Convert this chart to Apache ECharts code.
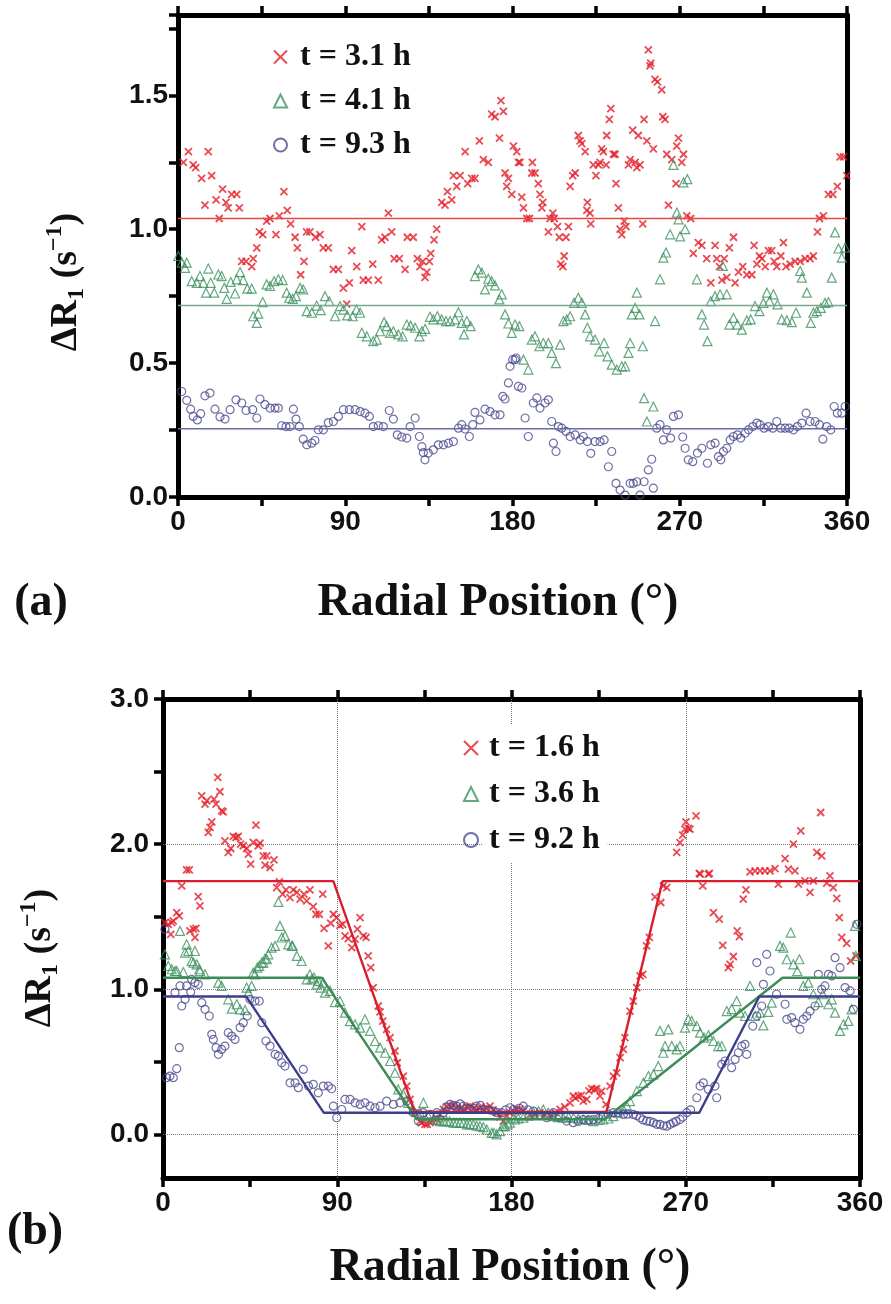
<!DOCTYPE html>
<html>
<head>
<meta charset="utf-8">
<script src="https://cdn.jsdelivr.net/npm/echarts@6/dist/echarts.min.js"></script>
<style>
  html, body { margin: 0; padding: 0; background: #fff; }
  #main { width: 891px; height: 1304px; }
</style>
</head>
<body>
<div id="main"></div>
<script>
// ---- panel (a): dR1 vs radial position, t = 3.1 / 4.1 / 9.3 h ----
var namesA = ['t = 3.1 h', 't = 4.1 h', 't = 9.3 h'];
var red31 = [[2.9,1.25],[5.6,1.29],[8.2,1.24],[9.5,1.23],[12.7,1.19],[14.5,1.09],[16.3,1.29],[18.1,1.20],[20.5,1.11],[22.2,1.04],[24,1.15],[25.8,1.10],[27,1.08],[28.9,1.13],[31.6,1.13],[33,1.08],[34.3,0.88],[36.6,0.88],[39.7,0.86],[40.5,0.89],[42.4,0.93],[43.8,0.99],[45.6,0.98],[47.7,1.03],[49.5,1.04],[52.7,0.98],[54.5,1.05],[57,1.14],[58.8,1.07],[60.6,1.02],[63,0.97],[64.2,0.93],[66,0.83],[67.8,0.88],[69.2,0.99],[71,0.99],[74,0.97],[76.4,0.98],[78.2,0.93],[80.9,0.93],[83.6,0.85],[86.3,0.85],[89,0.78],[90.8,0.72],[92.2,0.80],[93.5,0.92],[96.2,0.86],[98.9,1.01],[99.7,0.81],[102.4,0.81],[104.8,0.87],[107.8,0.81],[109.6,0.96],[111.4,0.97],[113.2,1.06],[115,0.99],[116.3,0.89],[119.1,0.89],[122.2,0.85],[123.4,0.97],[126.6,0.97],[128.8,0.89],[130.2,0.86],[131.7,0.88],[132.9,0.82],[133.9,0.84],[135.3,0.88],[136,0.91],[137.8,0.96],[139.2,1.0],[141.9,1.10],[143.7,1.09],[145,1.14],[147.3,1.11],[148.2,1.20],[150,1.16],[151.8,1.20],[154.5,1.29],[155.9,1.17],[158.1,1.19],[159.8,1.19],[162.2,1.33],[164.3,1.26],[167,1.25],[168.8,1.43],[170.6,1.42],[173,1.34],[173.8,1.48],[175.1,1.44],[176,1.21],[176.9,1.16],[177.8,1.19],[179.6,1.13],[180.5,1.31],[182.3,1.29],[183.2,1.25],[184,1.25],[185,1.12],[185.9,1.08],[187.7,1.04],[189.1,1.04],[190.4,1.21],[190.7,1.25],[192.1,1.21],[193.9,1.17],[194.8,1.13],[195.8,1.08],[196.3,1.10],[199.3,0.99],[200.2,1.04],[201.7,1.06],[202.4,1.04],[204.2,1.01],[205.2,0.97],[206,0.87],[207.1,0.86],[207.8,0.90],[208.8,0.97],[210.1,1.01],[211,1.16],[212.4,1.20],[213.7,1.21],[215.4,1.35],[216.4,1.33],[217.3,1.32],[219.1,1.29],[220,1.07],[220.3,1.10],[221.7,1.06],[222.1,1.02],[223.5,1.24],[224.9,1.20],[226.2,1.24],[227.1,1.25],[228,1.30],[228.9,1.29],[230.4,1.24],[230.7,1.35],[232.1,1.41],[232.9,1.45],[234.3,1.28],[235.2,1.28],[235.7,1.17],[237,1.08],[237.9,1.0],[238.8,0.98],[240.1,1.03],[241.1,1.01],[242.4,1.24],[243.3,1.26],[244.7,1.37],[246,1.25],[246.9,1.23],[247.7,1.35],[248.6,1.24],[250.1,1.02],[250.8,1.41],[252.3,1.33],[253.1,1.67],[254,1.61],[254.4,1.62],[255.8,1.30],[256.7,1.56],[258,1.55],[260.3,1.52],[260.9,1.42],[262.1,1.41],[263,1.28],[263.9,1.09],[265.7,1.26],[268,1.17],[268.4,1.31],[269.3,1.34],[271.1,1.25],[272,1.28],[273.8,1.05],[275.9,1.04],[277.3,0.91],[280,0.95],[281.9,0.94],[284.5,0.89],[286.7,0.80],[289,0.94],[289.9,0.89],[291.4,0.86],[292.7,0.81],[293.9,0.89],[295.3,0.82],[296.7,0.93],[298.9,0.97],[299.8,0.80],[301.6,0.84],[303.9,0.86],[306.1,0.83],[308.8,0.83],[310,0.94],[311.5,0.87],[312.9,0.90],[314.2,0.89],[316,0.86],[317.7,0.92],[319.5,0.92],[320.8,0.88],[322.2,0.86],[324.4,0.90],[325.8,0.95],[327.2,0.86],[329.4,0.87],[332.1,0.88],[334.8,0.88],[337.5,0.89],[340.1,0.89],[341.9,0.90],[344.1,0.99],[345.2,1.04],[347.3,1.05],[350,1.13],[352.4,1.13],[354.8,1.16],[356.3,1.27],[358.1,1.27],[359.9,1.20]];
var green41 = [[0.2,0.90],[2,0.875],[3.8,0.856],[4.7,0.875],[7.4,0.806],[10.1,0.80],[11.8,0.825],[13.6,0.80],[15.1,0.763],[16.3,0.853],[17.6,0.80],[19.5,0.763],[21.7,0.831],[23.5,0.825],[24.9,0.781],[26.2,0.74],[28.4,0.803],[30.7,0.76],[31.6,0.813],[33.4,0.84],[35.1,0.81],[37.3,0.778],[39.7,0.778],[40.5,0.675],[42.4,0.65],[43.2,0.685],[45.6,0.728],[47.7,0.794],[49.5,0.788],[51.7,0.806],[54,0.813],[56.3,0.81],[58.5,0.763],[59.9,0.744],[61.7,0.74],[63.5,0.75],[65.7,0.781],[67.4,0.775],[69.3,0.694],[72,0.688],[74.6,0.715],[76.8,0.698],[79.1,0.75],[81.4,0.731],[84.5,0.675],[87.2,0.713],[89,0.70],[91.1,0.678],[94,0.675],[96,0.70],[98,0.688],[98.9,0.613],[101.6,0.60],[105.1,0.582],[106.9,0.588],[108.7,0.619],[110.9,0.653],[112.3,0.638],[114.1,0.613],[115.9,0.619],[118.6,0.607],[120.9,0.60],[123.1,0.644],[125.2,0.64],[127.6,0.632],[129.9,0.60],[131.2,0.619],[133,0.628],[135.6,0.673],[137.4,0.663],[139.6,0.675],[141.9,0.663],[144.2,0.657],[146.4,0.657],[149.1,0.663],[150.9,0.69],[152.7,0.65],[153.9,0.607],[155.4,0.657],[157.5,0.638],[159.8,0.825],[161.6,0.85],[163.5,0.838],[165.2,0.775],[167,0.815],[168.8,0.806],[170.6,0.79],[172.9,0.738],[174.2,0.757],[176,0.682],[177.8,0.648],[179.6,0.613],[181.4,0.644],[183.7,0.638],[185.9,0.513],[188.5,0.476],[190.4,0.588],[192.1,0.60],[194.5,0.563],[196.6,0.575],[199.3,0.575],[201.1,0.538],[203.4,0.50],[205.6,0.569],[207.4,0.657],[209.2,0.663],[211,0.675],[213.1,0.725],[215.4,0.744],[217.3,0.725],[219.1,0.682],[220.3,0.632],[221.7,0.60],[224.4,0.588],[226.7,0.544],[229.3,0.575],[231.1,0.525],[233.4,0.494],[236.1,0.476],[238.8,0.488],[240.6,0.488],[242.4,0.538],[243.3,0.575],[244.2,0.682],[246,0.706],[246.9,0.763],[248.3,0.682],[250.1,0.563],[250.8,0.369],[252.3,0.282],[255.8,0.338],[256.7,0.657],[259.4,0.813],[261.2,0.894],[262.6,0.913],[264.8,0.981],[266.6,1.24],[268.4,1.062],[269.3,1.037],[270.2,0.973],[272,1.175],[272.9,1.0],[274.1,1.187],[279.2,0.813],[281.9,0.682],[283.1,0.644],[284.9,0.582],[286.7,0.731],[289,0.75],[291.7,0.757],[293.2,0.863],[295.3,0.757],[296.7,0.644],[298.9,0.669],[301,0.644],[303.4,0.625],[306.1,0.66],[308.2,0.663],[310.5,0.713],[312.9,0.694],[315,0.725],[316.9,0.763],[318.3,0.731],[320.4,0.757],[322.6,0.719],[324.9,0.663],[327.6,0.66],[330.3,0.653],[332.6,0.688],[334.8,0.844],[335.7,0.819],[338.4,0.763],[340.5,0.65],[341.9,0.688],[343.8,0.694],[345.9,0.706],[348.2,0.725],[350,0.728],[351.8,0.819],[353.6,0.988],[355.4,0.928],[357.2,0.894],[359,0.931]];
var blue93 = [[2,0.394],[4.7,0.361],[6.8,0.328],[8.2,0.301],[10.4,0.288],[12.2,0.311],[14.5,0.378],[17.2,0.388],[19.9,0.328],[22.6,0.299],[25.3,0.291],[28,0.326],[31.2,0.363],[34.3,0.351],[36.6,0.323],[40.2,0.326],[42.4,0.295],[44.1,0.366],[46.8,0.345],[49.5,0.332],[52.2,0.332],[54,0.332],[55.8,0.266],[58.1,0.263],[60.3,0.263],[62.1,0.328],[63.5,0.291],[65.3,0.263],[67.4,0.216],[69.3,0.195],[72,0.201],[73.7,0.211],[75.5,0.251],[78.2,0.251],[80.9,0.278],[83.6,0.282],[86.3,0.301],[89,0.326],[92.2,0.326],[95.3,0.326],[98,0.319],[100.6,0.313],[103,0.301],[105.1,0.263],[107.8,0.266],[110.5,0.263],[113.7,0.323],[115.9,0.291],[118,0.232],[120.4,0.224],[123.1,0.22],[124.9,0.263],[127.6,0.295],[129.9,0.226],[131.2,0.188],[132,0.166],[132.9,0.139],[134.7,0.164],[137.4,0.176],[140.1,0.195],[142.8,0.195],[145.5,0.201],[148.2,0.207],[150.9,0.257],[152.7,0.27],[154.5,0.254],[156.8,0.226],[158.6,0.27],[159.8,0.316],[162.5,0.288],[165.2,0.328],[167.9,0.319],[170.6,0.307],[173.3,0.307],[174.8,0.376],[176,0.366],[177.8,0.426],[178.7,0.488],[180.1,0.513],[181.4,0.513],[181.9,0.519],[183.2,0.413],[185,0.407],[186.8,0.295],[188.5,0.226],[191.2,0.351],[193.1,0.37],[194.8,0.332],[197.5,0.351],[199.3,0.363],[201.1,0.282],[202,0.201],[203.4,0.17],[204.7,0.263],[206.5,0.257],[208.8,0.245],[211,0.226],[213.7,0.232],[216.4,0.213],[218.1,0.226],[220.3,0.207],[222.1,0.163],[224.4,0.207],[227.1,0.207],[229.3,0.213],[231.6,0.113],[233.4,0.17],[235.7,0.051],[237.9,0.026],[240.6,0.007],[243.3,0.051],[245,0.051],[246.9,0.057],[248.6,0.007],[250.8,0.057],[253.1,0.101],[254.9,0.141],[255.8,0.033],[257.6,0.257],[259.4,0.27],[261.2,0.213],[263,0.251],[265.1,0.22],[266.6,0.301],[269.3,0.307],[271.6,0.224],[272.9,0.182],[274.6,0.139],[277,0.132],[279.5,0.164],[281.9,0.182],[284.9,0.126],[286.7,0.195],[289,0.201],[290.8,0.151],[292.1,0.139],[293.5,0.17],[295.3,0.182],[297.1,0.213],[298.9,0.226],[301,0.232],[302.8,0.22],[305.2,0.238],[307,0.251],[309.3,0.263],[311.5,0.276],[313.2,0.27],[315.4,0.257],[317.7,0.263],[320.1,0.257],[322.2,0.282],[324.4,0.257],[326.7,0.257],[329,0.257],[331.2,0.251],[333.3,0.263],[335.7,0.276],[338,0.313],[340.1,0.282],[342.8,0.282],[345.2,0.27],[347,0.216],[349.1,0.263],[351.3,0.251],[353.1,0.338],[354.8,0.313],[357.2,0.313],[359,0.338]];
// mean levels drawn as horizontal lines in (a)
var meanA = [1.04, 0.715, 0.255];

// ---- panel (b): t = 1.6 / 3.6 / 9.2 h with trapezoid fits ----
var namesB = ['t = 1.6 h', 't = 3.6 h', 't = 9.2 h'];
var red16 = [[1,1.46],[2.7,1.448],[4,1.379],[4.5,1.46],[5.3,1.471],[7.1,1.529],[8.4,1.506],[9.7,1.712],[12.2,1.823],[13.6,1.823],[13.9,1.402],[15.7,1.414],[16.5,1.357],[17,1.419],[18.2,1.639],[19.1,1.575],[20,2.333],[21.7,2.276],[22.6,2.299],[23.4,2.081],[24.3,2.115],[25.2,2.154],[26.3,2.31],[27.4,2.276],[28.3,2.46],[29.4,2.361],[30.3,2.23],[31.1,2.223],[32,2.023],[33.7,1.943],[35,1.97],[36.3,2.053],[37.7,2.046],[38.9,2.053],[40.1,2.0],[41.5,1.989],[43.2,1.97],[44.1,1.931],[45.3,1.862],[46.6,2.012],[48,2.131],[49.2,1.989],[50.1,2.007],[51.8,1.919],[52.7,1.855],[53.6,1.919],[55.3,1.839],[57.3,1.892],[58.7,1.701],[60.1,1.74],[61.8,1.655],[63.5,1.685],[65.6,1.632],[67.3,1.685],[69.1,1.667],[70.8,1.621],[72.8,1.655],[74.2,1.609],[75.9,1.685],[77.6,1.57],[79,1.517],[80.7,1.517],[82.5,1.655],[83.2,1.419],[85.4,1.299],[86.6,1.455],[88,1.517],[89.7,1.494],[91.4,1.441],[92.8,1.448],[94,1.368],[95.7,1.349],[97.5,1.287],[99.2,1.345],[100.4,1.414],[101.8,1.494],[103.5,1.368],[104.9,1.357],[106,1.23],[107.3,1.149],[108.6,1.012],[111.2,0.885],[112.1,0.844],[113.5,0.781],[115.5,0.724],[117.3,0.667],[119.8,0.575],[121,0.494],[124.1,0.402],[125.9,0.333],[127.6,0.241],[130.2,0.15],[132.7,0.092],[133.5,0.08],[135.3,0.069],[136.5,0.07],[137.9,0.081],[139,0.09],[141.4,0.103],[143,0.14],[144.8,0.172],[146.5,0.19],[148.2,0.195],[150,0.2],[151.7,0.184],[153.5,0.18],[155.1,0.172],[157,0.19],[158.6,0.195],[160.5,0.18],[162,0.172],[164,0.19],[165.4,0.172],[167,0.18],[168.9,0.195],[170.5,0.17],[172.4,0.15],[174,0.12],[175.8,0.092],[177.5,0.13],[179.2,0.15],[181,0.16],[182.7,0.172],[184.4,0.172],[186,0.16],[189.6,0.138],[192,0.14],[194.7,0.15],[197,0.14],[199.9,0.126],[202.5,0.15],[205.1,0.172],[207.5,0.19],[210.2,0.218],[211.9,0.264],[213,0.25],[214.5,0.264],[216,0.27],[217.1,0.23],[218.9,0.241],[220,0.3],[221.4,0.315],[223,0.31],[224,0.315],[225.7,0.264],[226.6,0.299],[228.8,0.207],[230.9,0.333],[232.6,0.402],[234.3,0.425],[236.1,0.529],[237.8,0.586],[238.6,0.667],[241.2,0.85],[242.9,0.919],[244.7,1.012],[246.4,1.092],[247.8,1.103],[249.8,1.299],[251.2,1.357],[254.1,1.637],[257.1,1.598],[258.4,1.712],[260.2,1.701],[265.3,1.943],[267,2.01],[268.4,2.062],[269.6,2.103],[270.1,2.154],[271.3,2.108],[272.2,2.103],[275.3,2.195],[277,1.798],[277.5,1.793],[278.8,1.712],[281.7,1.793],[282.2,1.798],[284.3,1.529],[287.3,1.483],[289.1,1.303],[292,1.149],[292.9,1.172],[294.6,1.226],[296.6,1.402],[297.7,1.363],[299.7,1.621],[301.1,1.685],[303.2,1.809],[305.8,1.816],[308.4,1.816],[310.9,1.816],[313.5,1.816],[316.1,1.832],[317.8,1.724],[321.3,1.901],[323,1.828],[325.6,2.0],[326.4,1.816],[328.2,1.724],[329.4,2.092],[331.6,1.747],[334.2,1.667],[335.9,1.747],[337.7,1.943],[339.7,2.218],[340.2,1.92],[342.8,1.731],[344.5,1.782],[346.2,1.701],[348,1.626],[349.3,1.494],[350.6,1.357],[353.1,1.317],[355.2,1.195],[357.9,1.23]];
var green36 = [[1,1.241],[2.7,1.161],[4.5,1.138],[6.2,1.126],[7.1,1.126],[8.8,1.402],[10.5,1.119],[11.4,1.253],[12.2,1.31],[13.1,1.264],[14.8,1.195],[15.7,1.184],[16.5,1.264],[17.4,1.172],[18.8,1.138],[19.1,1.126],[21.7,1.103],[28.6,1.046],[30.3,1.023],[33.7,0.931],[35.5,0.867],[38.1,0.897],[39.8,0.862],[42.4,0.857],[43.2,1.012],[44.1,0.977],[45.8,1.023],[46.6,1.115],[47.5,1.103],[48.7,1.149],[49.7,1.161],[51,1.184],[51.8,1.184],[52.7,1.212],[53.6,1.207],[54.4,1.241],[56.1,1.287],[57.9,1.299],[59.6,1.602],[60.4,1.437],[61.3,1.357],[63,1.368],[64.7,1.31],[66.5,1.299],[67,1.299],[69.1,1.23],[71.6,1.195],[74.2,1.069],[75.9,1.103],[76.8,1.069],[78,1.081],[79.4,1.034],[80.2,1.057],[81.4,1.012],[82.8,1.046],[83.7,0.977],[86.3,0.989],[88.8,0.912],[91.4,0.919],[94,0.839],[96.6,0.781],[99.2,0.759],[101.8,0.736],[104.3,0.793],[106.9,0.713],[109.5,0.644],[112.1,0.598],[114.7,0.563],[117.3,0.506],[119.8,0.425],[121.5,0.31],[124.1,0.276],[126.7,0.218],[129.3,0.172],[132.7,0.15],[134.5,0.218],[137,0.126],[139.6,0.103],[141.5,0.1],[143.1,0.092],[145,0.09],[146.5,0.092],[148,0.09],[150,0.081],[151.5,0.08],[153.4,0.081],[155,0.08],[156.9,0.069],[158.5,0.07],[160.3,0.069],[162,0.06],[163.7,0.057],[165.5,0.05],[167.2,0.034],[169.8,0.011],[171,0.01],[172.4,0.0],[174.1,0.023],[175.8,0.057],[176.7,0.057],[178,0.07],[179.2,0.081],[181,0.115],[181.8,0.103],[183.5,0.11],[186.1,0.115],[188.5,0.13],[191.3,0.15],[194,0.16],[196.4,0.172],[199,0.15],[201.6,0.126],[204,0.12],[206.8,0.115],[209.5,0.12],[212,0.115],[214.5,0.11],[217.1,0.103],[219.5,0.1],[222.3,0.092],[225,0.1],[227.4,0.103],[230,0.11],[232.6,0.126],[235,0.15],[237.8,0.172],[239.5,0.2],[241.2,0.23],[244.7,0.299],[248.1,0.356],[250.7,0.402],[253.3,0.414],[255.8,0.471],[256.7,0.713],[258.4,0.563],[259.3,0.609],[261,0.724],[262.8,0.609],[265.3,0.586],[267,0.609],[269.6,0.736],[271.3,0.793],[273.1,0.782],[275.7,0.747],[277.4,0.701],[279.4,0.667],[281.7,0.683],[284.3,0.644],[286.8,0.609],[288.6,0.609],[291.2,0.85],[293.7,0.864],[296.3,0.919],[298,0.839],[300.6,0.816],[303.2,1.023],[305.8,0.816],[308.4,0.839],[310.1,0.751],[312.7,0.844],[314.4,0.908],[318.7,1.299],[320.4,1.287],[322.2,1.207],[324.2,1.391],[325.6,1.172],[327.6,1.126],[328.7,1.207],[330.7,1.023],[333.3,1.046],[335.9,0.966],[338.5,0.912],[340.8,0.966],[343.7,0.897],[345.4,0.931],[347.1,0.839],[349.7,0.713],[351.4,0.759],[354,0.782],[355.7,0.862],[357.4,1.437],[357.9,1.23]];
var blue92 = [[1,1.414],[1.9,0.391],[3.6,0.402],[5.3,0.391],[6.2,0.977],[7.1,0.453],[8.4,0.598],[8.8,1.023],[9.7,0.885],[11.4,0.931],[12.2,1.023],[14.3,0.982],[14.8,1.069],[16.5,1.046],[18.2,1.034],[20,0.908],[21.7,0.862],[23.9,0.816],[25.2,0.69],[26,0.655],[27.4,0.598],[28.6,0.552],[30.3,0.586],[32,0.609],[33.7,0.701],[35.5,0.678],[37.2,0.655],[39.8,0.736],[41.5,0.77],[43.5,0.816],[44.9,0.931],[47.5,0.919],[49.7,0.919],[51,0.77],[53.2,0.644],[55.3,0.609],[57.9,0.552],[59.6,0.54],[61.3,0.494],[63,0.471],[65.6,0.356],[68.2,0.356],[69.9,0.322],[72.5,0.448],[75.1,0.333],[77.6,0.345],[80.2,0.287],[82.8,0.333],[85.4,0.333],[87.1,0.315],[88,0.195],[89.7,0.115],[92.3,0.172],[94,0.241],[96.6,0.241],[99.2,0.218],[101.8,0.207],[104.3,0.218],[106.9,0.195],[109.5,0.184],[112.1,0.195],[115.5,0.23],[119,0.207],[122.4,0.218],[125.9,0.23],[129.3,0.15],[131.9,0.092],[134.5,0.15],[137.9,0.138],[141.4,0.15],[144.8,0.15],[146.5,0.19],[148.2,0.207],[150,0.2],[151.7,0.195],[153.5,0.21],[155.1,0.195],[157,0.18],[158.6,0.172],[160.5,0.18],[162,0.195],[164,0.2],[166.3,0.172],[168.5,0.17],[170.6,0.161],[172.5,0.15],[174.9,0.15],[177,0.17],[179.2,0.184],[181,0.172],[184,0.18],[186.1,0.195],[188.5,0.17],[191.3,0.161],[195,0.13],[198.2,0.115],[201.6,0.15],[204.5,0.12],[208.5,0.092],[211.9,0.081],[214.5,0.09],[217.1,0.103],[220,0.1],[222.3,0.103],[225,0.11],[227.4,0.126],[230,0.14],[232.6,0.15],[235,0.15],[237.8,0.138],[240,0.14],[242.9,0.138],[244.5,0.13],[246.4,0.115],[248,0.1],[249.8,0.092],[251.5,0.09],[253.3,0.081],[255,0.07],[256.7,0.069],[258.5,0.06],[260.2,0.057],[262,0.07],[263.6,0.081],[265,0.09],[267,0.103],[268.5,0.12],[270.5,0.15],[272.5,0.17],[275.7,0.253],[277.4,0.333],[279.1,0.356],[281.7,0.31],[285.1,0.333],[286,0.253],[288.6,0.483],[290.3,0.506],[293.7,0.46],[295.5,0.517],[297.2,0.563],[298.9,0.609],[300.6,0.621],[301.5,0.552],[304.6,0.747],[306.7,0.816],[306.7,1.184],[309.2,0.885],[310.1,1.034],[311.8,1.241],[313.5,1.126],[316.9,0.966],[321.3,0.897],[322.2,0.793],[324.7,0.805],[326.4,0.77],[329,0.724],[330.7,0.793],[332.5,0.816],[334.2,0.85],[336.8,0.885],[338.5,1.103],[340.2,1.0],[341.9,1.023],[343.7,1.103],[345.4,1.092],[347.1,1.218],[349.7,1.149],[352.3,1.012],[354.9,0.989],[356.6,0.862],[358.3,1.448]];
var fitRed16 = [[0,1.745],[88,1.745],[130,0.155],[229,0.155],[258,1.745],[360,1.745]];
var fitGreen36 = [[0,1.08],[82,1.08],[131,0.105],[228,0.105],[320,1.08],[360,1.08]];
var fitBlue92 = [[0,0.95],[43,0.95],[83,0.15],[277,0.15],[308,0.95],[360,0.95]];
var gridXB = [90, 180, 270];
var gridYB = [0, 1, 2];

var RED = '#e31e28', GREEN = '#3f9160', BLUE = '#4b4a8e';
var CROSS = 'path://M0,0L10,10M10,0L0,10';
var TICK_FONT = { fontFamily: 'Liberation Sans', fontWeight: 'bold', fontSize: 28, color: '#111' };
var SERIF = 'Liberation Serif';

function xAx(grid, pos, labels) {
    return {
        gridIndex: grid, type: 'value', position: pos, min: 0, max: 360, interval: 45,
        axisLine: { show: true, onZero: false, lineStyle: { color: '#000', width: 5 } },
        axisTick: { show: true, inside: false, length: 9, lineStyle: { color: '#000', width: 3.5 } },
        axisLabel: Object.assign({ show: labels, margin: 11,
            formatter: function (v) { return v % 90 === 0 ? String(v) : ''; } }, TICK_FONT),
        splitLine: { show: false }
    };
}

function yAx(grid, min, max, extra) {
    return Object.assign({
        gridIndex: grid, type: 'value', position: 'left', min: min, max: max,
        axisLine: { show: true, onZero: false, lineStyle: { color: '#000', width: 5 } },
        splitLine: { show: false }
    }, extra);
}

function marker(kind, color) {
    return {
        symbol: kind === 'x' ? CROSS : kind,
        symbolSize: kind === 'x' ? 7 : (kind === 'triangle' ? 9 : 8),
        itemStyle: { color: 'rgba(0,0,0,0)', borderColor: color, borderWidth: kind === 'x' ? 1.8 : 1.2 }
    };
}

function scatter(name, data, kind, color, xi, yi) {
    return Object.assign({ type: 'scatter', name: name, data: data, xAxisIndex: xi, yAxisIndex: yi, z: 2 },
        marker(kind, color));
}

function fitLine(name, data, color, width, xi, yi) {
    return { type: 'line', name: name, data: data, xAxisIndex: xi, yAxisIndex: yi, z: 3,
        symbol: 'none', lineStyle: { color: color, width: width } };
}

var levelLine = function (v) { return [[0, v], [360, v]]; };

var yTitleRich = {
    a: { fontFamily: SERIF, fontWeight: 'bold', fontSize: 38, lineHeight: 46, fill: '#111' },
    s: { fontFamily: SERIF, fontWeight: 'bold', fontSize: 24, lineHeight: 24, verticalAlign: 'bottom', fill: '#111' },
    p: { fontFamily: SERIF, fontWeight: 'bold', fontSize: 24, lineHeight: 24, verticalAlign: 'top', fill: '#111' }
};
var yTitle = '{a|ΔR}{s|1}{a| (s}{p|−1}{a|)}';

function textEl(x, y, text, size, rot) {
    return { type: 'text', x: x, y: y, rotation: rot || 0,
        style: { text: text, fontFamily: SERIF, fontWeight: 'bold', fontSize: size, fill: '#111',
            align: 'center', verticalAlign: 'middle' } };
}

var chart = echarts.init(document.getElementById('main'));

var option = {
    animation: false,
    backgroundColor: '#ffffff',
    grid: [
        { left: 178, top: 15, width: 669, height: 482 },
        { left: 163, top: 699, width: 697, height: 479 }
    ],
    xAxis: [
        xAx(0, 'bottom', true),
        xAx(0, 'top', false),
        xAx(1, 'bottom', true),
        xAx(1, 'top', false)
    ],
    yAxis: [
        yAx(0, 0, 1.8, {
            interval: 0.25,
            axisTick: { show: true, length: 9, lineStyle: { color: '#000', width: 3.5 } },
            axisLabel: Object.assign({ margin: 10, formatter: function (v) {
                return Math.abs(v * 2 - Math.round(v * 2)) < 1e-6 ? v.toFixed(1) : ''; } }, TICK_FONT)
        }),
        yAx(0, 0, 1.8, { position: 'right', axisTick: { show: false }, axisLabel: { show: false } }),
        yAx(1, -0.3, 3.0, {
            axisTick: { show: true, length: 9, lineStyle: { color: '#000', width: 3.5 },
                customValues: [0, 0.5, 1, 1.5, 2, 2.5, 3] },
            axisLabel: Object.assign({ margin: 14, customValues: [0, 1, 2, 3],
                formatter: function (v) { return v.toFixed(1); } }, TICK_FONT)
        }),
        yAx(1, -0.3, 3.0, { position: 'right', axisTick: { show: false }, axisLabel: { show: false } })
    ],
    legend: [
        {
            orient: 'vertical', left: 268, top: 30, itemGap: 0, itemWidth: 13, itemHeight: 13,
            selectedMode: false, z: 10,
            data: [{ name: namesA[0], icon: CROSS }, { name: namesA[1], icon: 'triangle' }, { name: namesA[2], icon: 'circle' }],
            textStyle: { fontFamily: SERIF, fontWeight: 'bold', fontSize: 32, lineHeight: 44, color: '#111', padding: [0, 0, 0, 8] }
        },
        {
            orient: 'vertical', left: 458, top: 720, itemGap: 0, itemWidth: 14, itemHeight: 14,
            selectedMode: false, z: 10,
            data: [{ name: namesB[0], icon: CROSS }, { name: namesB[1], icon: 'triangle' }, { name: namesB[2], icon: 'circle' }],
            textStyle: { fontFamily: SERIF, fontWeight: 'bold', fontSize: 32, lineHeight: 46, color: '#111',
                backgroundColor: '#fff', padding: [0, 8, 0, 6] }
        }
    ],
    graphic: [
        { type: 'text', x: 66, y: 282, rotation: Math.PI / 2,
          style: { text: yTitle, rich: yTitleRich, align: 'center', verticalAlign: 'middle' } },
        { type: 'text', x: 40, y: 958, rotation: Math.PI / 2,
          style: { text: yTitle, rich: yTitleRich, align: 'center', verticalAlign: 'middle' } },
        textEl(498, 603, 'Radial Position (°)', 46),
        textEl(510, 1268, 'Radial Position (°)', 46),
        textEl(41, 603, '(a)', 46),
        textEl(35, 1232, '(b)', 46)
    ],
    series: [
        scatter(namesA[0], red31, 'x', RED, 0, 0),
        scatter(namesA[1], green41, 'triangle', GREEN, 0, 0),
        scatter(namesA[2], blue93, 'circle', BLUE, 0, 0),
        fitLine('mean 3.1 h', levelLine(meanA[0]), '#e44848', 1.4, 0, 0),
        fitLine('mean 4.1 h', levelLine(meanA[1]), '#76a98e', 1.4, 0, 0),
        fitLine('mean 9.3 h', levelLine(meanA[2]), '#6b6ba6', 1.4, 0, 0),

        Object.assign(scatter(namesB[0], red16, 'x', RED, 2, 2), {
            markLine: {
                silent: true, symbol: 'none', z: 1, animation: false,
                label: { show: false },
                lineStyle: { type: 'dotted', color: '#777', width: 1 },
                data: gridXB.map(function (v) { return { xAxis: v }; })
                    .concat(gridYB.map(function (v) { return { yAxis: v }; }))
            }
        }),
        scatter(namesB[1], green36, 'triangle', GREEN, 2, 2),
        scatter(namesB[2], blue92, 'circle', BLUE, 2, 2),
        fitLine('fit 1.6 h', fitRed16, '#d81e2c', 2.4, 2, 2),
        fitLine('fit 3.6 h', fitGreen36, '#3d8c57', 2.4, 2, 2),
        fitLine('fit 9.2 h', fitBlue92, '#3d3d8a', 2.4, 2, 2)
    ]
};

option && chart.setOption(option);
</script>
</body>
</html>
